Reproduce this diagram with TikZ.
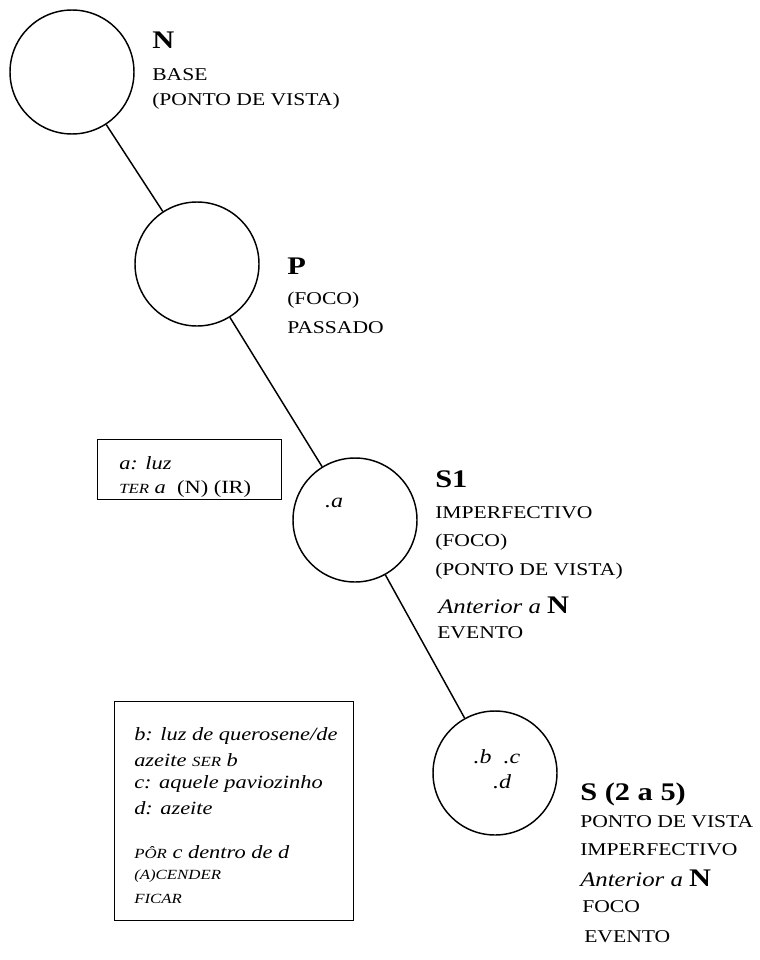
\documentclass[tikz,border=0pt]{standalone}
\usepackage{fontspec}
\setmainfont{Liberation Serif}[FakeStretch=1.2]
\newcommand\smcap[1]{{\fontsize{10.5}{11}\selectfont #1}}
\newcommand\antN{{\fontsize{15.5}{17}\selectfont\itshape Anterior a }{\fontsize{19}{21}\selectfont\bfseries N}}
\tikzset{
  circ/.style={circle, draw, line width=1.1pt, minimum size=93pt, inner sep=0pt},
  lbl/.style={anchor=west, inner sep=0pt, font=\fontsize{13.5}{15}\selectfont},
  big/.style={anchor=west, inner sep=0pt, font=\fontsize{19}{21}\selectfont\bfseries},
  boxfr/.style={draw, line width=1pt, anchor=north west, inner sep=0pt},
  boxtxt/.style={anchor=west, inner sep=0pt, font=\fontsize{14}{16}\selectfont\itshape},
  dotlbl/.style={inner sep=0pt, font=\fontsize{15}{17}\selectfont\itshape},
  link/.style={line width=1.1pt}
}
\begin{document}
\begin{tikzpicture}[x=0.75pt, y=-0.75pt]
\useasboundingbox (0,0) rectangle (760,960);
% circles
\node[circ] (N) at (72,72) {};
\node[circ] (P) at (197,264) {};
\node[circ] (S1) at (355,520) {};
\node[circ] (S) at (495,773) {};
\draw[link] (N) -- (P);
\draw[link] (P) -- (S1);
\draw[link] (S1) -- (S);
% contents of circles
\node[dotlbl] (da) at (334,503) {.a};
\node[dotlbl] (dbc) at (497,757) {.b\ \ .c};
\node[dotlbl] (dd) at (502,782) {.d};
% N labels
\node[big] (tN) at (152,40) {N};
\node[lbl] (tN1) at (152,75) {BASE};
\node[lbl] (tN2) at (152,101) {(PONTO DE VISTA)};
% P labels
\node[big] (tP) at (287,266) {P};
\node[lbl] (tP1) at (287,300) {(FOCO)};
\node[lbl] (tP2) at (287,328) {PASSADO};
% S1 labels
\node[big] (tS1) at (435,479) {S1};
\node[lbl] (tS11) at (435,513) {IMPERFECTIVO};
\node[lbl] (tS12) at (435,542) {(FOCO)};
\node[lbl] (tS13) at (435,571) {(PONTO DE VISTA)};
\node[anchor=west, inner sep=0pt] (tS14) at (438,605) {\antN};
\node[lbl] (tS15) at (437,633) {EVENTO};
% S labels
\node[big] (tS) at (580,794) {S (2 a 5)};
\node[lbl] (tS1a) at (580,822) {PONTO DE VISTA};
\node[lbl] (tS2a) at (580,850) {IMPERFECTIVO};
\node[anchor=west, inner sep=0pt] (tS3a) at (580,878) {\antN};
\node[lbl] (tS4a) at (582,907) {FOCO};
\node[lbl] (tS5a) at (584,937) {EVENTO};
% box a
\node[boxfr, minimum width=138pt, minimum height=45pt] (boxa) at (97,439) {};
\node[boxtxt] (ba1) at (119,463) {a: luz};
\node[boxtxt] (ba2) at (119,489) {\smcap{TER} a\ \ {\upshape (N) (IR)}};
% box b
\node[boxfr, minimum width=179pt, minimum height=164pt] (boxb) at (114,701) {};
\node[boxtxt] (bb1) at (134,736) {b: luz de querosene/de};
\node[boxtxt] (bb2) at (134,760) {azeite \smcap{SER} b};
\node[boxtxt] (bb3) at (134,784) {c: aquele paviozinho};
\node[boxtxt] (bb4) at (134,808) {d: azeite};
\node[boxtxt] (bb5) at (134,852) {\smcap{PÔR} c dentro de d};
\node[boxtxt] (bb6) at (134,876) {\smcap{(A)CENDER}};
\node[boxtxt] (bb7) at (134,899) {\smcap{FICAR}};
\end{tikzpicture}
\end{document}
